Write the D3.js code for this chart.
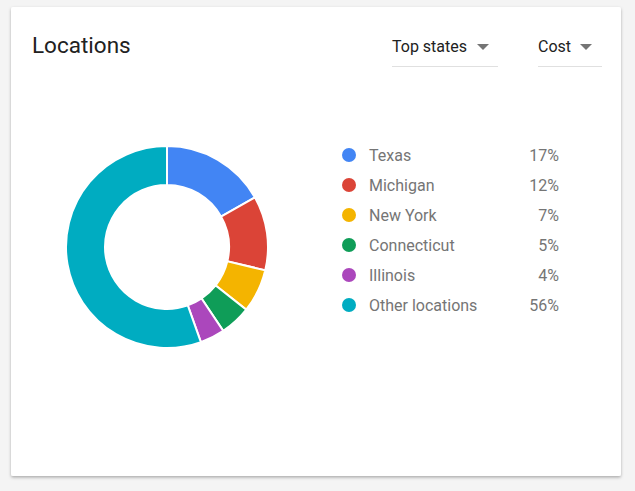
<!DOCTYPE html>
<html><head><meta charset="utf-8">
<script src="https://cdn.jsdelivr.net/npm/d3@7"></script>
<style>
html,body{margin:0;padding:0;background:#f4f4f4;}
svg{display:block;}
</style></head>
<body>
<svg id="c" width="635" height="491"></svg>
<script>
const categories = ["Texas","Michigan","New York","Connecticut","Illinois","Other locations"];
const values = [17,12,7,5,4,56];
const colors = ["#4285F4","#DB4437","#F4B400","#0F9D58","#AB47BC","#00ACC1"];
const title = "Locations";
const dropdowns = ["Top states","Cost"];

const svg = d3.select("#c");
const defs = svg.append("defs");
const f = defs.append("filter").attr("id","sh").attr("x","-5%").attr("y","-5%").attr("width","110%").attr("height","115%");
f.append("feDropShadow").attr("dx",0).attr("dy",1.5).attr("stdDeviation",1.5).attr("flood-color","#000").attr("flood-opacity",0.3);

svg.append("rect").attr("x",11).attr("y",7).attr("width",610).attr("height",469)
  .attr("rx",2).attr("fill","#fff").attr("filter","url(#sh)");

svg.append("text").attr("x",32).attr("y",53).text(title)
  .attr("font-family","Roboto").attr("font-size",22.5).attr("fill","#212121");

const dd = [{x:392,w:106,tri:483},{x:538,w:64,tri:586}];
dropdowns.forEach((t,i)=>{
  const d = dd[i];
  svg.append("text").attr("x",d.x).attr("y",52).text(t)
    .attr("font-family","Roboto").attr("font-size",16).attr("fill","#212121");
  svg.append("path").attr("d",`M${d.tri-6},${44}L${d.tri+6},${44}L${d.tri},${50}Z`).attr("fill","#757575");
  svg.append("line").attr("x1",d.x).attr("x2",d.x+d.w).attr("y1",66.5).attr("y2",66.5)
    .attr("stroke","#e0e0e0").attr("stroke-width",1);
});

const data = categories.map((c,i)=>({name:c,value:values[i],color:colors[i]}));
const pie = d3.pie().value(d=>d.value).sort(null);
const arc = d3.arc().innerRadius(62).outerRadius(101);
const g = svg.append("g").attr("transform","translate(167,247)");
g.selectAll("path").data(pie(data)).join("path")
  .attr("d",arc).attr("fill",d=>d.data.color)
  .attr("stroke","#fff").attr("stroke-width",2);

const y = d3.scalePoint().domain(categories).range([155,305]);
const leg = svg.append("g");
const rows = leg.selectAll("g").data(data).join("g").attr("transform",d=>`translate(0,${y(d.name)})`);
rows.append("circle").attr("cx",349).attr("cy",0).attr("r",7).attr("fill",d=>d.color);
rows.append("text").attr("x",369).attr("y",5.5).text(d=>d.name)
  .attr("font-family","Roboto").attr("font-size",16).attr("fill","#757575");
rows.append("text").attr("x",559).attr("y",5.5).attr("text-anchor","end").text(d=>d.value+"%")
  .attr("font-family","Roboto").attr("font-size",16).attr("fill","#757575");
</script>
</body></html>
